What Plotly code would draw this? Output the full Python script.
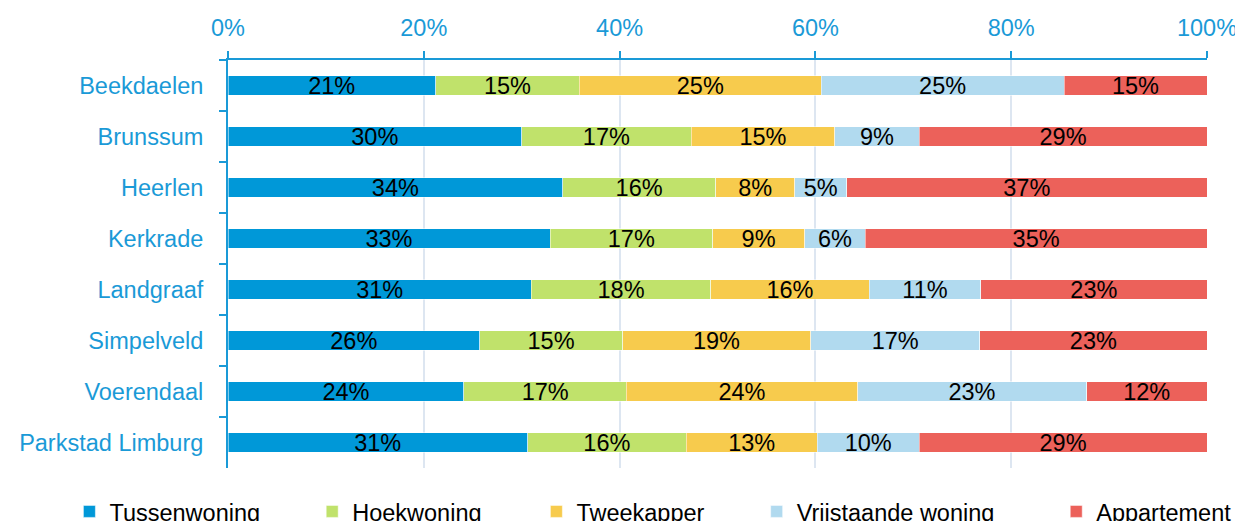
import plotly.graph_objects as go

categories = ["Beekdaelen", "Brunssum", "Heerlen", "Kerkrade", "Landgraaf",
              "Simpelveld", "Voerendaal", "Parkstad Limburg"]
tussenwoning = [21.2, 30.0, 34.2, 32.9, 31.0, 25.7, 24.1, 30.6]
hoekwoning = [14.7, 17.3, 15.6, 16.6, 18.3, 14.6, 16.6, 16.2]
tweekapper = [24.7, 14.7, 8.1, 9.4, 16.2, 19.2, 23.6, 13.4]
vrijstaand = [24.8, 8.6, 5.3, 6.2, 11.4, 17.3, 23.4, 10.4]
appartement = [14.6, 29.4, 36.8, 34.9, 23.1, 23.2, 12.3, 29.4]

series_names = ["Tussenwoning", "Hoekwoning", "Tweekapper", "Vrijstaande woning", "Appartement"]
series_values = [tussenwoning, hoekwoning, tweekapper, vrijstaand, appartement]
colors = ["#0098D8", "#C0E26B", "#F7CB4D", "#B1DAEF", "#EC615A"]
tick_values = [0, 20, 40, 60, 80, 100]
tick_labels = ["0%", "20%", "40%", "60%", "80%", "100%"]

FONT = "Liberation Sans, Arial, sans-serif"
FS = 23.5
BLUE = "#1A9AD7"

legend_ids = ["legend", "legend2", "legend3", "legend4", "legend5"]
legend_x = [-0.1620, 0.0860, 0.3150, 0.5400, 0.8460]

fig = go.Figure()
for name, vals, col, lid in zip(series_names, series_values, colors, legend_ids):
    fig.add_trace(go.Bar(
        y=categories, x=vals, name=name, orientation="h",
        marker=dict(color=col, line=dict(color="rgba(255,255,255,0.5)", width=1)),
        texttemplate="%{x:.0f}%", textposition="inside", insidetextanchor="middle",
        constraintext="none",
        textfont=dict(family=FONT, size=FS, color="black"),
        legend=lid, hoverinfo="skip",
    ))

layout_legends = {}
for lid, lx in zip(legend_ids, legend_x):
    layout_legends[lid] = dict(
        orientation="h", x=lx, xanchor="left", y=-0.053, yanchor="top",
        font=dict(family=FONT, size=FS, color="black"),
        bgcolor="rgba(0,0,0,0)", borderwidth=0,
    )

fig.update_layout(
    width=1243, height=521,
    margin=dict(l=220, r=44, t=52, b=61, autoexpand=False),
    paper_bgcolor="white", plot_bgcolor="white",
    barmode="stack", bargap=0.61,
    font=dict(family=FONT, size=FS, color=BLUE),
    showlegend=True,
    xaxis=dict(
        side="top", range=[0, 100], tickvals=tick_values, ticktext=tick_labels,
        showline=True, linecolor=BLUE, linewidth=2,
        ticks="outside", ticklen=7, tickwidth=2, tickcolor=BLUE,
        showgrid=True, gridcolor="#DDE6F1", gridwidth=1.5, zeroline=False,
        ticklabelstandoff=6,
        tickfont=dict(family=FONT, size=FS, color=BLUE),
    ),
    yaxis=dict(
        type="category", autorange="reversed",
        showline=True, linecolor=BLUE, linewidth=2,
        ticks="outside", ticklen=7, tickwidth=2, tickcolor=BLUE,
        tickson="boundaries", showgrid=False, ticklabelstandoff=18,
        tickfont=dict(family=FONT, size=FS, color=BLUE),
    ),
    **layout_legends,
)

fig.write_html("out.html")
